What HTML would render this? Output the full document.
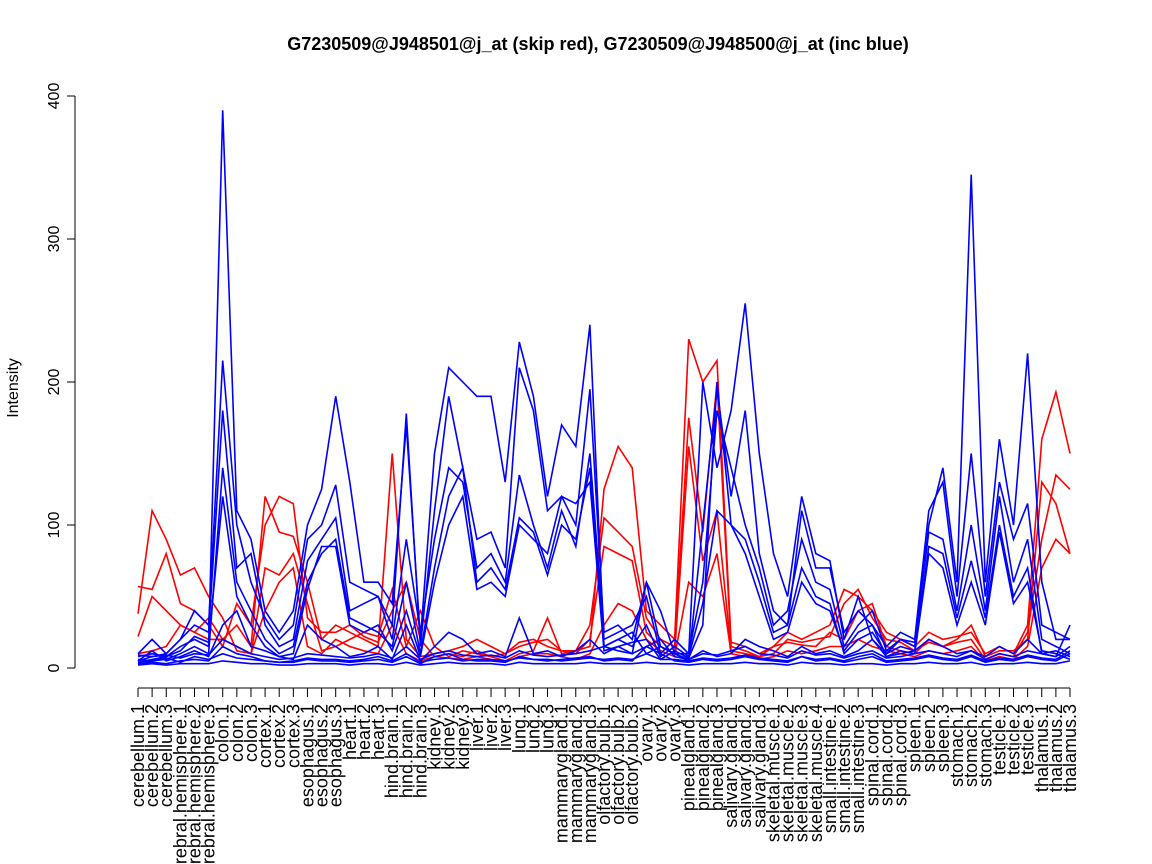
<!DOCTYPE html>
<html><head><meta charset="utf-8"><style>
body{margin:0;background:#fff}
svg{display:block;font-family:"Liberation Sans",sans-serif}
</style></head><body>
<svg id="s" width="1152" height="864" xmlns="http://www.w3.org/2000/svg">
<rect width="1152" height="864" fill="#fff"/>
<text x="598" y="50" text-anchor="middle" font-size="18" font-weight="bold">G7230509@J948501@j_at (skip red), G7230509@J948500@j_at (inc blue)</text>
<line x1="75" y1="96" x2="75" y2="668" stroke="#000"/>
<g stroke="#000">
<line x1="67" y1="668" x2="75" y2="668"/><line x1="67" y1="525" x2="75" y2="525"/><line x1="67" y1="382" x2="75" y2="382"/><line x1="67" y1="239" x2="75" y2="239"/><line x1="67" y1="96" x2="75" y2="96"/>
</g>
<g font-size="16" text-anchor="middle">
<text transform="translate(59,668) rotate(-90)">0</text>
<text transform="translate(59,525) rotate(-90)">100</text>
<text transform="translate(59,382) rotate(-90)">200</text>
<text transform="translate(59,239) rotate(-90)">300</text>
<text transform="translate(59,96) rotate(-90)">400</text>
<text transform="translate(18,388) rotate(-90)">Intensity</text>
</g>
<g id="lines" fill="none" stroke-width="1.6"></g>
<g id="xax"></g>
</svg>
<script>
var N=67,x0=138,dx=(1070-138)/66;
function X(i){return x0+i*dx}
function Y(v){return 668-v*1.43}
var labels=[];
var groups=[["cerebellum",3],["cerebral.hemisphere",3],["colon",3],["cortex",3],["esophagus",3],["heart",3],["hind.brain",3],["kidney",3],["liver",3],["lung",3],["mammarygland",3],["olfactory.bulb",3],["ovary",3],["pinealgland",3],["salivary.gland",3],["skeletal.muscle",4],["small.intestine",3],["spinal.cord",3],["spleen",3],["stomach",3],["testicle",3],["thalamus",3]];
groups.forEach(function(g){for(var k=1;k<=g[1];k++)labels.push(g[0]+"."+k)});
var ns="http://www.w3.org/2000/svg",ax=document.getElementById("xax");
function el(t,a,p){var e=document.createElementNS(ns,t);for(var k in a)e.setAttribute(k,a[k]);p.appendChild(e);return e}
el("line",{x1:X(0),y1:688,x2:X(66),y2:688,stroke:"#000"},ax);
labels.forEach(function(l,i){
 el("line",{x1:X(i),y1:688,x2:X(i),y2:697,stroke:"#000"},ax);
 var t=el("text",{transform:"translate("+(X(i)+6)+",704) rotate(-90)","text-anchor":"end","font-size":"18"},ax);t.textContent=l;
});
var blue=[
[8,10,8,15,20,15,390,110,90,40,25,40,100,125,190,130,60,60,45,170,20,150,210,200,190,190,130,228,190,120,170,155,240,15,20,25,10,15,10,10,200,140,180,255,150,80,50,120,80,75,20,50,20,10,20,15,100,140,60,345,60,160,100,220,60,20,20],
[10,20,10,20,40,30,215,100,60,35,20,30,90,100,128,60,55,50,30,178,15,110,190,140,90,95,70,210,180,110,120,100,195,25,30,20,60,15,10,5,100,195,120,180,80,40,30,110,70,70,25,40,30,15,25,20,110,130,50,150,50,130,90,115,30,25,20],
[5,8,10,20,30,25,180,70,80,30,15,20,75,90,105,40,45,50,20,90,25,90,140,130,70,80,60,135,100,70,110,85,150,20,25,30,50,10,20,10,60,180,140,100,70,30,40,90,60,55,15,30,40,12,20,18,95,90,40,100,40,120,60,90,20,15,10],
[3,5,6,10,15,10,140,60,40,20,10,15,60,80,90,35,30,25,15,60,10,70,120,140,60,70,55,105,95,65,100,90,140,15,20,15,30,8,15,8,45,110,100,90,60,25,30,70,50,45,10,20,25,10,15,12,85,80,35,75,35,100,50,70,10,12,8],
[4,6,8,12,22,18,120,50,30,15,8,10,55,85,85,30,25,30,12,40,8,60,100,120,55,60,50,100,90,80,120,115,130,12,15,18,20,6,12,7,30,200,100,80,50,20,25,60,45,40,12,25,30,8,12,10,80,70,30,60,30,95,45,60,12,10,6],
[5,12,5,8,12,8,30,40,15,12,8,6,30,20,15,8,10,15,6,30,5,15,25,20,10,12,8,35,10,12,8,12,20,10,15,10,60,40,10,6,12,8,10,20,15,12,8,15,10,12,8,12,20,8,10,12,20,15,10,12,8,15,10,20,10,8,30],
[3,4,3,5,6,5,15,10,8,5,4,4,6,5,5,4,5,6,4,8,3,8,10,6,5,5,4,8,6,5,6,7,8,5,6,5,15,10,5,4,6,5,6,8,6,5,4,8,5,6,4,6,8,4,5,6,8,6,5,8,4,6,5,8,6,5,10],
[2,3,2,3,3,3,5,4,3,3,2,2,3,3,3,2,3,3,2,4,2,3,4,3,3,3,2,4,3,3,3,3,4,3,3,3,4,3,3,2,3,3,3,4,3,3,2,4,3,3,2,3,3,2,3,3,4,3,3,4,2,3,3,4,3,3,5],
[6,5,7,4,8,6,10,7,6,5,4,5,7,6,6,5,6,8,5,10,4,6,7,5,6,6,5,7,6,6,5,6,7,6,7,6,10,6,6,5,7,6,7,9,7,6,5,8,6,7,5,8,10,5,6,7,9,7,6,9,5,7,6,9,7,6,12],
[9,8,9,7,10,9,20,15,10,8,6,7,10,9,8,7,8,10,7,15,6,10,12,9,8,9,7,12,9,8,9,10,12,15,12,10,15,20,8,6,10,9,12,15,10,9,7,12,9,10,7,10,12,7,8,10,12,10,8,12,6,10,8,12,10,8,15]
];
var red=[
[22,50,40,30,25,35,20,30,15,120,95,92,60,20,30,25,20,15,150,20,8,10,12,15,20,15,10,15,18,20,12,12,15,125,155,140,40,30,20,230,200,215,18,15,10,15,25,20,25,30,55,50,40,25,20,15,25,20,22,25,10,15,10,30,160,193,150],
[38,110,90,65,70,50,35,12,10,70,65,80,45,12,15,20,25,22,55,15,40,15,8,12,10,8,5,10,12,35,10,12,30,105,95,85,35,20,15,175,95,200,15,12,8,10,20,18,20,22,45,55,35,20,18,12,18,15,20,30,8,12,12,20,130,115,80],
[57,55,80,45,40,30,15,45,30,100,120,115,35,25,25,30,22,18,40,60,20,8,10,8,12,8,10,18,20,15,12,10,20,85,80,75,25,15,10,155,75,110,12,10,8,15,18,16,15,25,20,40,45,15,12,10,20,15,18,20,6,10,8,25,90,135,125],
[10,12,15,30,25,20,20,15,10,40,60,70,15,10,20,15,12,10,30,10,5,8,7,6,8,6,4,8,10,10,8,6,10,30,45,40,20,12,8,60,50,80,10,8,6,8,12,10,12,15,15,20,15,12,10,8,12,10,12,15,5,8,6,15,70,90,80]
];
var L=document.getElementById("lines");
function draw(arr,c){arr.forEach(function(d){el("polyline",{points:d.map(function(v,i){return X(i).toFixed(1)+","+Y(v).toFixed(1)}).join(" "),stroke:c},L)})}
draw(red,"#ff0000");draw(blue,"#0000ff");
</script>
</body></html>
